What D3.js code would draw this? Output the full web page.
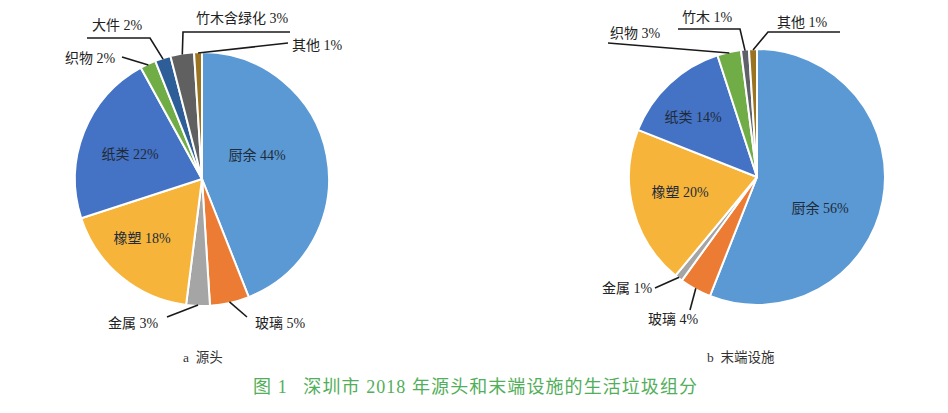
<!DOCTYPE html>
<html><head><meta charset="utf-8">
<script src="https://cdn.jsdelivr.net/npm/d3@7"></script>
<style>
html,body{margin:0;padding:0;background:#fff;}
svg{display:block;}
</style></head>
<body>
<svg id="chart" width="948" height="413"></svg>
<script>
// ---- data ----
const sourceCategories = ["厨余","玻璃","金属","橡塑","纸类","织物","大件","竹木含绿化","其他"];
const sourceValues     = [44, 5, 3, 18, 22, 2, 2, 3, 1];
const endCategories    = ["厨余","玻璃","金属","橡塑","纸类","织物","竹木","其他"];
const endValues        = [56, 4, 1, 20, 14, 3, 1, 1];
const subTitles = ["a  源头", "b  末端设施"];
const figTitle = "图 1\u2002 深圳市 2018 年源头和末端设施的生活垃圾组分";

// ---- styles / layout ----
const colorMap = {
  "厨余":"#5a99d3","玻璃":"#ec7c33","金属":"#a5a5a5","橡塑":"#f6b53a","纸类":"#4472c4",
  "织物":"#70ad47","大件":"#2e5e98","竹木含绿化":"#606060","竹木":"#5f6168","其他":"#9a7420"
};
const pies = [
  {cats: sourceCategories, vals: sourceValues, cx: 202, cy: 179, r: 127,
   labels: {
     "厨余":{x:257,y:155}, "纸类":{x:130,y:154}, "橡塑":{x:142,y:238},
     "金属":{x:133,y:323,line:[[167,317]]},
     "玻璃":{x:280,y:323,line:[[247,317]]},
     "织物":{x:90,y:58,line:[[122,57]]},
     "大件":{x:117,y:25,line:[[87,38],[150,38]]},
     "竹木含绿化":{x:242,y:18,line:[[290,32],[183,32]]},
     "其他":{x:317,y:45,line:[[288,43]]}
   }},
  {cats: endCategories, vals: endValues, cx: 757, cy: 177, r: 128,
   labels: {
     "厨余":{x:820,y:208}, "纸类":{x:693,y:117}, "橡塑":{x:680,y:192},
     "金属":{x:627,y:288,line:[[655,288]]},
     "玻璃":{x:673,y:319,line:[[690,310]]},
     "织物":{x:635,y:33,line:[[608,43]]},
     "竹木":{x:707,y:17,line:[[678,29],[740,29]]},
     "其他":{x:802,y:22,line:[[840,32],[768,32]]}
   }}
];
const labelFont = "'Liberation Serif','Noto Sans CJK SC',serif";

const svg = d3.select("#chart");

pies.forEach((p, pi) => {
  const data = p.cats.map((c, i) => ({cat: c, val: p.vals[i]}));
  const pie = d3.pie().sort(null).value(d => d.val).startAngle(0).endAngle(2*Math.PI);
  const arcs = pie(data);
  const arc = d3.arc().innerRadius(0).outerRadius(p.r);
  const edgeArc = d3.arc().innerRadius(p.r - 1).outerRadius(p.r - 1);
  const g = svg.append("g").attr("transform", `translate(${p.cx},${p.cy})`);
  g.selectAll("path").data(arcs).enter().append("path")
    .attr("d", arc)
    .attr("fill", d => colorMap[d.data.cat])
    .attr("stroke", "#fff")
    .attr("stroke-width", 2)
    .attr("stroke-linejoin", "round");

  // leader lines & labels
  arcs.forEach(a => {
    const L = p.labels[a.data.cat];
    if (!L) return;
    if (L.line) {
      const e = edgeArc.centroid(a);
      const pts = L.line.map(q => [q[0], q[1]]);
      pts.push([p.cx + e[0], p.cy + e[1]]);
      svg.append("path")
        .attr("d", d3.line()(pts))
        .attr("fill", "none")
        .attr("stroke", "#1a1a1a")
        .attr("stroke-width", 1.6);
    }
    svg.append("text")
      .attr("x", L.x).attr("y", L.y)
      .attr("text-anchor", "middle")
      .attr("dominant-baseline", "central")
      .attr("font-family", labelFont)
      .attr("font-size", 14)
      .attr("fill", L.line ? "#222" : "#1f2b3a")
      .text(a.data.cat + " " + a.data.val + "%");
  });

  svg.append("text")
    .attr("x", pi === 0 ? 183 : 707).attr("y", 357)
    .attr("text-anchor", "start")
    .attr("dominant-baseline", "central")
    .attr("font-family", labelFont)
    .attr("font-size", 13.5)
    .attr("fill", "#333")
    .style("white-space", "pre")
    .text(subTitles[pi]);
});

svg.append("text")
  .attr("x", 253).attr("y", 387)
  .attr("text-anchor", "start")
  .attr("dominant-baseline", "central")
  .attr("font-family", "'Liberation Serif','Noto Sans CJK SC',serif")
  .attr("font-size", 18)
  .attr("fill", "#52ae5a")
  .style("white-space", "pre")
  .attr("textLength", 444)
  .attr("lengthAdjust", "spacing")
  .text(figTitle);
</script>
</body></html>
